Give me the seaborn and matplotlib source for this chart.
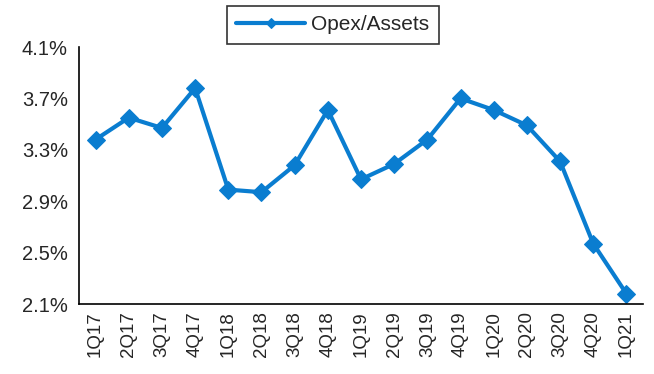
import matplotlib
matplotlib.use("Agg")
import matplotlib.pyplot as plt
import seaborn as sns
import pandas as pd
from matplotlib.ticker import FuncFormatter, FixedLocator

quarters = ["1Q17", "2Q17", "3Q17", "4Q17", "1Q18", "2Q18", "3Q18", "4Q18",
            "1Q19", "2Q19", "3Q19", "4Q19", "1Q20", "2Q20", "3Q20", "4Q20", "1Q21"]
opex_assets = [3.38, 3.55, 3.47, 3.78, 2.99, 2.97, 3.18, 3.61,
               3.07, 3.19, 3.38, 3.70, 3.61, 3.49, 3.21, 2.57, 2.18]
y_ticks = [2.1, 2.5, 2.9, 3.3, 3.7, 4.1]

df = pd.DataFrame({"Quarter": quarters, "Opex/Assets": opex_assets})
df["x"] = range(len(quarters))

sns.set_style("white")
plt.rcParams["font.family"] = ["Liberation Sans", "DejaVu Sans"]

fig = plt.figure(figsize=(6.54, 3.74), dpi=100)
ax = fig.add_axes([79/654, 1 - 304/374, (643-79)/654, (304-47)/374])

color = "#0A7DD0"
sns.lineplot(data=df, x="x", y="Opex/Assets", ax=ax, color=color, linewidth=3,
             marker="D", markersize=9, markeredgecolor=color, label="Opex/Assets")

ax.set_xlim(-0.5, len(quarters) - 0.5)
ax.set_ylim(y_ticks[0], y_ticks[-1])
ax.set_yticks(y_ticks)
ax.yaxis.set_major_formatter(FuncFormatter(lambda v, p: f"{v:.1f}%"))
ax.set_xticks(range(len(quarters)))
ax.set_xticklabels(quarters, rotation=90)
ax.xaxis.set_minor_locator(FixedLocator([i - 0.5 for i in range(len(quarters) + 1)]))
ax.tick_params(axis="x", which="major", length=0, labelsize=13.5, pad=5)
ax.tick_params(axis="x", which="minor", length=5, width=1.2, color="black", direction="out")
ax.tick_params(axis="y", length=5, width=1.2, color="black", direction="out", labelsize=14.5, pad=3)
ax.set_xlabel("")
ax.set_ylabel("")
for s in ["top", "right"]:
    ax.spines[s].set_visible(False)
for s in ["left", "bottom"]:
    ax.spines[s].set_color("black")
    ax.spines[s].set_linewidth(1.2)

leg = ax.legend(loc="upper center", bbox_to_anchor=(333/654, 1 - 6/374),
                bbox_transform=fig.transFigure, frameon=True, fancybox=False,
                fontsize=15, handlelength=3.3, handletextpad=0.3, borderpad=0.45,
                borderaxespad=0, markerscale=0.6)
leg.get_frame().set_edgecolor("black")
leg.get_frame().set_linewidth(1.2)

fig.savefig("out.png", dpi=100)
